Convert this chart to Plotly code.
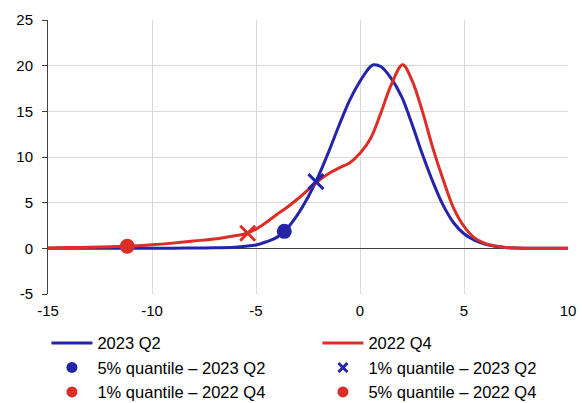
import plotly.graph_objects as go

# Density 2023 Q2
x_q2 = [-15, -13, -11, -9, -8, -7, -6, -5.5, -5, -4.5, -4, -3.5, -3, -2.5, -2, -1.5, -1, -0.5, 0, 0.5,
        0.65, 1, 1.5, 2, 2.5, 3, 3.5, 4, 4.5, 5, 5.5, 6, 6.5, 7, 7.5, 8, 9, 10]
y_q2 = [0, 0.005, 0.01, 0.02, 0.03, 0.06, 0.13, 0.22, 0.37, 0.72, 1.2, 2.2, 3.7, 5.6, 7.9, 10.6, 13.5, 16.2, 18.3, 19.9,
        20.1, 19.9, 18.6, 16.6, 13.6, 10.3, 7.3, 4.7, 2.8, 1.6, 0.9, 0.48, 0.22, 0.09, 0.04, 0.02, 0.005, 0]

# Density 2022 Q4
x_q4 = [-15, -14, -13, -12, -11, -10, -9, -8, -7, -6, -5.5, -5, -4.5, -4, -3.5, -3, -2.5, -2, -1.5, -1,
        -0.5, 0, 0.5, 1, 1.5, 2.05, 2.5, 3, 3.5, 4, 4.5, 5, 5.5, 6, 6.5, 7, 7.5, 8, 9, 10]
y_q4 = [0.05, 0.08, 0.12, 0.17, 0.25, 0.38, 0.57, 0.8, 1.02, 1.38, 1.6, 2.1, 2.85, 3.7, 4.5, 5.4, 6.4, 7.4, 8.2, 8.8,
        9.35, 10.4, 12.0, 14.8, 17.9, 20.1, 18.4, 15.0, 11.0, 7.5, 4.4, 2.4, 1.15, 0.55, 0.25, 0.1, 0.05, 0.02, 0.005, 0]

# Quantile markers
q5_q2 = (-3.64, 1.86)
q1_q2 = (-2.12, 7.3)
q1_q4 = (-11.19, 0.22)
q5_q4 = (-5.4, 1.65)

x_ticks = [-15, -10, -5, 0, 5, 10]
y_ticks = [-5, 0, 5, 10, 15, 20, 25]

BLUE = "#2424A8"
RED = "#DC2E26"
FONT = "Liberation Sans, Arial, sans-serif"

fig = go.Figure()
fig.add_trace(go.Scatter(x=x_q2, y=y_q2, mode="lines", name="2023 Q2",
                         line=dict(color=BLUE, width=3, shape="spline", smoothing=1.0)))
fig.add_trace(go.Scatter(x=x_q4, y=y_q4, mode="lines", name="2022 Q4",
                         line=dict(color=RED, width=3, shape="spline", smoothing=1.0)))

# chart markers (not in legend)
fig.add_trace(go.Scatter(x=[q5_q2[0]], y=[q5_q2[1]], mode="markers", showlegend=False,
                         marker=dict(color=BLUE, size=15, symbol="circle")))
fig.add_trace(go.Scatter(x=[q1_q2[0]], y=[q1_q2[1]], mode="markers", showlegend=False,
                         marker=dict(color=BLUE, size=15, symbol="x-thin", line=dict(color=BLUE, width=3))))
fig.add_trace(go.Scatter(x=[q1_q4[0]], y=[q1_q4[1]], mode="markers", showlegend=False,
                         marker=dict(color=RED, size=15, symbol="circle")))
fig.add_trace(go.Scatter(x=[q5_q4[0]], y=[q5_q4[1]], mode="markers", showlegend=False,
                         marker=dict(color=RED, size=15, symbol="x-thin", line=dict(color=RED, width=3))))

# legend entries
fig.add_trace(go.Scatter(x=[None], y=[None], mode="markers", name="5% quantile – 2023 Q2",
                         marker=dict(color=BLUE, size=11, symbol="circle")))
fig.add_trace(go.Scatter(x=[None], y=[None], mode="markers", name="1% quantile – 2023 Q2",
                         marker=dict(color=BLUE, size=9, symbol="x-thin", line=dict(color=BLUE, width=3))))
fig.add_trace(go.Scatter(x=[None], y=[None], mode="markers", name="1% quantile – 2022 Q4",
                         marker=dict(color=RED, size=11, symbol="circle")))
fig.add_trace(go.Scatter(x=[None], y=[None], mode="markers", name="5% quantile – 2022 Q4",
                         marker=dict(color=RED, size=11, symbol="circle")))

fig.update_layout(
    width=582, height=403,
    margin=dict(l=48, r=14, t=20, b=109, autoexpand=False),
    paper_bgcolor="white", plot_bgcolor="white",
    font=dict(family=FONT, size=15, color="#000000"),
    showlegend=True,
    legend=dict(orientation="h", x=-0.003, xanchor="left", y=-0.116, yanchor="top",
                entrywidth=215, entrywidthmode="pixels", itemwidth=41,
                font=dict(size=16.5), tracegroupgap=0, bgcolor="rgba(0,0,0,0)"),
)
fig.update_xaxes(range=[-15, 10], tickvals=x_ticks, ticktext=[str(v) for v in x_ticks],
                 showgrid=True, gridcolor="#D9D9D9", gridwidth=1, zeroline=False,
                 showline=False, ticks="", ticklabelstandoff=6)
fig.update_yaxes(range=[-5, 25], tickvals=y_ticks, ticktext=[str(v) for v in y_ticks],
                 showgrid=True, gridcolor="#D9D9D9", gridwidth=1,
                 zeroline=True, zerolinecolor="#404040", zerolinewidth=1,
                 showline=True, linecolor="#404040", linewidth=1,
                 ticks="outside", ticklen=5, tickcolor="#404040", ticklabelstandoff=6)

fig.write_html("out.html")
